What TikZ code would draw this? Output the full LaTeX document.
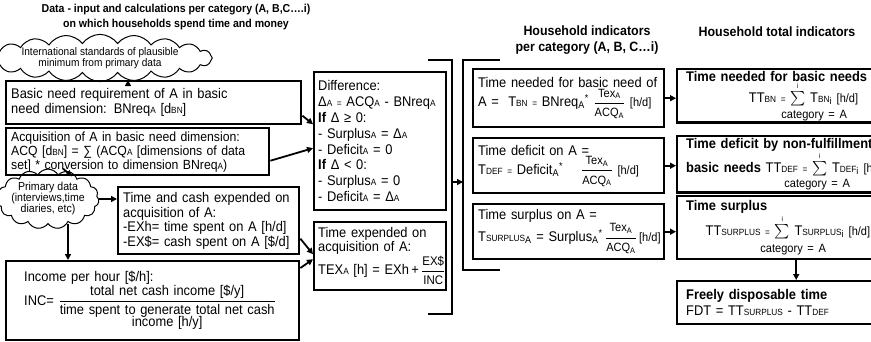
\documentclass[tikz,border=0pt]{standalone}
\usepackage{amsmath}
\usepackage{fontspec}
\setmainfont[FakeStretch=0.92]{Liberation Sans}
\usetikzlibrary{positioning,arrows.meta,shapes.symbols,calc}
\newcommand{\sm}[1]{{\fontsize{9}{9}\selectfont #1}}
\newcommand{\lo}[1]{\textsubscript{#1}}
\newcommand{\hd}{{\fontsize{12}{12}\selectfont [h/d]}}
\newcommand{\frc}[2]{$\dfrac{\text{\fontsize{12}{12}\selectfont #1\lo{A}}}{\text{\fontsize{12}{12}\selectfont #2\lo{A}}}$}
\newcommand{\sumi}{$\sum\limits^{\text{\fontsize{7}{7}\selectfont i}}$}
\newcommand{\catA}{{\fontsize{12}{12}\selectfont category = A}}

\begin{document}
\begin{tikzpicture}[x=1pt,y=-1pt,
  box/.style={draw, line width=2.4pt, anchor=north west, align=left, inner xsep=5pt, inner ysep=2pt, font=\fontsize{14}{15}\selectfont},
  head/.style={align=center, font=\fontsize{13.5}{16}\selectfont\bfseries},
  idea/.style={cloud, draw, line width=1pt, cloud puffs=15, cloud puff arc=120, cloud ignores aspect, align=center, inner sep=0pt, font=\fontsize{11.5}{11}\selectfont},
  arr/.style={line width=1.8pt, -{Triangle[length=6pt,width=6pt]}},
  bracket/.style={line width=2.2pt}
]
  \useasboundingbox (0,0) rectangle (871,341);
  \clip (0,0) rectangle (871,341);

  % Data column
  \node[head, font=\fontsize{11.5}{14.5}\selectfont\bfseries] (ttlData) at (176,17) {Data - input and calculations per category (A, B,C….i)\\on which households spend time and money};
  \node[idea, cloud puffs=20, cloud puff arc=110, inner xsep=1pt, inner ysep=0pt, font=\fontsize{11}{10.5}\selectfont] (std) at (100,58) {International standards of plausible\\minimum from primary data};
  \node[box, minimum width=295pt, minimum height=43pt, text width=285pt] (need) at (5,80)
    {Basic need requirement of A in basic\\need dimension: BNreq\sm{A} [d\sm{BN}]};
  \node[box, minimum width=263pt, minimum height=47pt, text width=253pt, font=\fontsize{13.3}{14}\selectfont] (acq) at (5,127)
    {Acquisition of A in basic need dimension:\\ACQ [d\sm{BN}] = ∑ (ACQ\sm{A} [dimensions of data\\set] * conversion to dimension BNreq\sm{A})};
  \node[idea, inner xsep=-2pt, inner ysep=1pt] (prim) at (48,199) {Primary data\\(interviews,time\\diaries, etc)};
  \node[box, minimum width=181pt, minimum height=67pt, text width=171pt, font=\fontsize{14}{14.5}\selectfont] (spend) at (117,186)
    {Time and cash expended on\\acquisition of A:\\-EXh= time spent on A [h/d]\\-EX\$= cash spent on A [\$/d]};
  \node[box, minimum width=293pt, minimum height=79pt, text width=257pt, inner xsep=18pt] (inc) at (5,260)
    {Income per hour [\$/h]:\\INC= $\dfrac{\text{total net cash income [\$/y]}}{\begin{tabular}{@{}c@{}}time spent to generate total net cash\\[-3pt]income [h/y]\end{tabular}}$};

  % Calculations
  \node[box, minimum width=132pt, minimum height=138pt, text width=124pt, inner xsep=4pt, font=\fontsize{14}{15.8}\selectfont] (diff) at (313,71)
    {Difference:\\Δ\sm{A} {\small =} ACQ\sm{A} - BNreq\sm{A}\\\textbf{If} Δ ≥ 0:\\- Surplus\sm{A} = Δ\sm{A}\\- Deficit\sm{A} = 0\\\textbf{If} Δ < 0:\\- Surplus\sm{A} = 0\\- Deficit\sm{A} = Δ\sm{A}};
  \node[box, minimum width=132pt, minimum height=68pt, text width=124pt, inner xsep=4pt, font=\fontsize{14}{12.5}\selectfont] (texp) at (313,221)
    {Time expended on\\acquisition of A:\\\mbox{TEX\sm{A} [h] = EXh\,+\,$\dfrac{\text{\fontsize{12.5}{12.5}\selectfont EX\$}}{\text{\fontsize{12.5}{12.5}\selectfont INC}}$}};

  % Brackets
  \draw[bracket] (428,60) -- (452,60) -- (452,314) -- (428,314);
  \draw[bracket] (500,60) -- (463,60) -- (463,270) -- (500,270);
  \coordinate (joinL) at (452,182);
  \coordinate (joinR) at (463,182);

  % Household indicators
  \node[head] (ttlHh) at (587,40) {Household indicators\\per category (A, B, C…i)};
  \node[box, minimum width=191pt, minimum height=58pt, text width=181pt, font=\fontsize{14}{16}\selectfont] (tbn) at (472,68)
    {Time needed for basic need of\\\mbox{A = \ T\sm{BN} {\small =} BNreq\lo{A}\textsuperscript{*} \frc{Tex}{ACQ} \hd}};
  \node[box, minimum width=191pt, minimum height=55pt, text width=181pt] (tdef) at (472,137)
    {Time deficit on A =\\\mbox{T\sm{DEF} {\small =} Deficit\lo{A}\textsuperscript{*}\hspace{18pt}\frc{Tex}{ACQ} \hd}};
  \node[box, minimum width=191pt, minimum height=55pt, text width=181pt] (tsur) at (472,203)
    {Time surplus on A =\\\mbox{T\sm{SURPLUS}\lo{A} = Surplus\lo{A}\textsuperscript{*}\,\frc{Tex}{ACQ}\,\hd}};

  % Totals
  \node[head] (ttlTot) at (777,32) {Household total indicators};
  \node[box, minimum width=238pt, minimum height=50pt, text width=220pt, inner xsep=9pt, font=\fontsize{14}{15.5}\selectfont] (ttbn) at (676,68)
    {\textbf{Time needed for basic needs}\\\makebox[172pt][r]{TT\sm{BN} {\small =} \sumi\ T\sm{BN}\lo{i} \hd}\\\makebox[256pt][c]{\catA}};
  \node[box, minimum width=238pt, minimum height=53pt, text width=220pt, inner xsep=9pt, font=\fontsize{14}{15.5}\selectfont] (ttdef) at (676,135)
    {\textbf{Time deficit by non-fulfillment}\\\mbox{\textbf{basic needs} TT\sm{DEF} {\small =} \sumi\ T\sm{DEF}\lo{i} \hd}\\\makebox[262pt][c]{\catA}};
  \node[box, minimum width=238pt, minimum height=63pt, text width=220pt, inner xsep=9pt, font=\fontsize{14}{17}\selectfont] (ttsur) at (676,195)
    {\textbf{Time surplus}\\\makebox[184pt][r]{TT\sm{SURPLUS} {\small =} \sumi\ T\sm{SURPLUS}\lo{i} \hd}\\\makebox[214pt][c]{\catA}};
  \node[box, minimum width=238pt, minimum height=43pt, text width=220pt, inner xsep=7pt, font=\fontsize{14}{16}\selectfont] (fdt) at (676,280)
    {\textbf{Freely disposable time}\\FDT = TT\sm{SURPLUS} - TT\sm{DEF}};

  % Arrows
  \draw[arr] ([xshift=28pt]std.south) -- ([xshift=28pt]std.south |- need.north);
  \draw[arr] ([yshift=-13pt]need.east) -- ([yshift=17pt]diff.west);
  \draw[arr] ([yshift=-9pt]acq.east) -- ([yshift=-7pt]diff.west);
  \draw[arr] ([xshift=15pt]prim.north) -- ([xshift=67pt]acq.south west);
  \draw[arr] (prim.east) -- (prim.east -| spend.west);
  \draw[arr] ([xshift=20pt]prim.south) -- ([xshift=20pt]prim.south |- inc.north);
  \draw[arr] ([yshift=-18pt]spend.east) -- ([yshift=2pt]texp.west);
  \draw[arr] ([yshift=-8pt]inc.north east) -- ([yshift=-3pt]texp.west);
  \draw[arr] (joinL) -- (joinR);
  \draw[arr] (tbn.east) -- (tbn.east -| ttbn.west);
  \draw[arr] (tdef.east) -- (tdef.east -| ttdef.west);
  \draw[arr] (tsur.east) -- (tsur.east -| ttsur.west);
  \draw[arr] (ttsur.south) -- (ttsur.south |- fdt.north);
\end{tikzpicture}
\end{document}
